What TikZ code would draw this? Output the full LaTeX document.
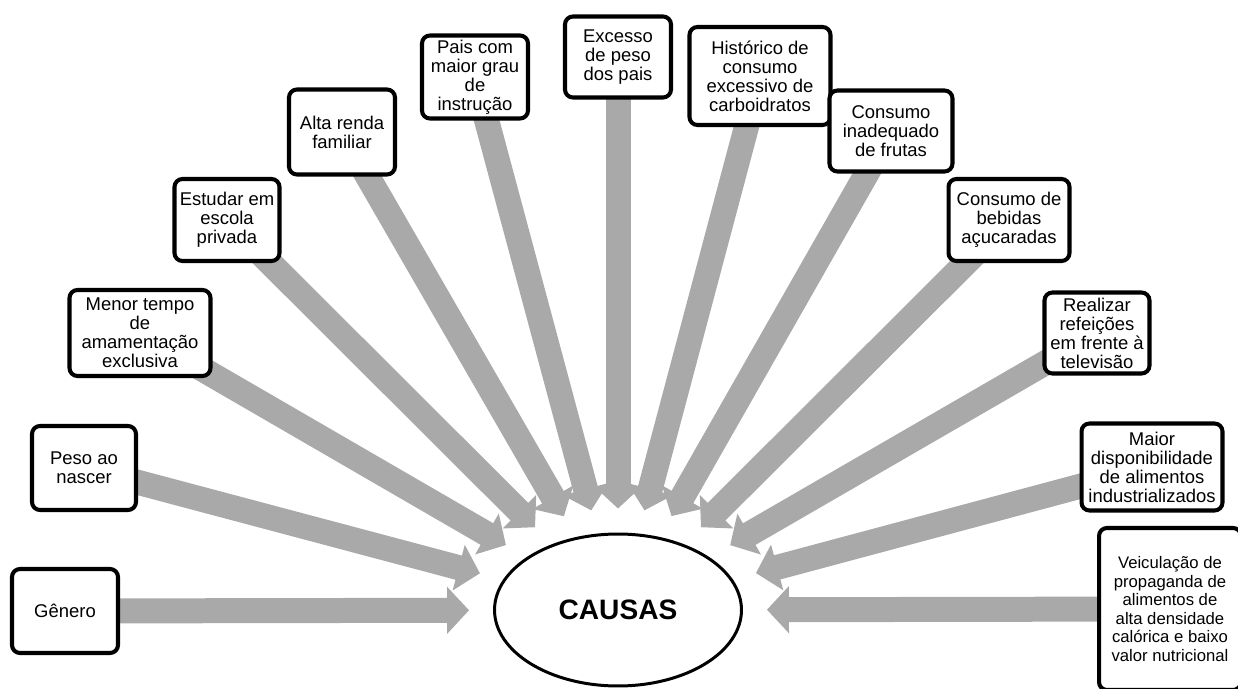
\documentclass[tikz,border=0pt]{standalone}
\usepackage{fontspec}
\setmainfont{Liberation Sans}
\usetikzlibrary{arrows.meta,shapes.geometric,positioning}
\pgfdeclarelayer{background}
\pgfsetlayers{background,main}
\definecolor{arrowgray}{RGB}{169,169,169}

\begin{document}
\begin{tikzpicture}[x=0.02cm,y=-0.02cm]

		\tikzset{cause/.style={draw,fill=white,line width=2.3pt,rounded corners=4.5pt,align=center,inner sep=1pt,font=\fontsize{10.5}{10.8}\selectfont}}
		\tikzset{arrow/.style={arrowgray,line width=0.5cm,shorten >=0.48cm,-{Triangle[width=0.92cm,length=0.44cm]}}}
		\tikzset{center/.style={draw,ellipse,line width=1.7pt,minimum width=4.94cm,minimum height=3.04cm,font=\fontsize{16}{19}\selectfont\bfseries}}

		\useasboundingbox (0,0) rectangle (1238,689);
		\clip (0,0) rectangle (1238,689);

		\node[center] (causas) at (618,610) {CAUSAS};

		% left side
		\node[cause,minimum width=2.12cm,minimum height=1.68cm] (genero) at (65,611) {Gênero};
		\node[cause,minimum width=2.08cm,minimum height=1.68cm] (peso) at (84,468) {Peso ao\\nascer};
		\node[cause,minimum width=2.82cm,minimum height=1.72cm] (amament) at (140,333) {Menor tempo\\de\\amamentação\\exclusiva};
		\node[cause,minimum width=2.10cm,minimum height=1.64cm] (escola) at (227,220) {Estudar em\\escola\\privada};
		\node[cause,minimum width=2.12cm,minimum height=1.70cm] (renda) at (342,132) {Alta renda\\familiar};
		\node[cause,minimum width=2.12cm,minimum height=1.66cm] (instr) at (475,77) {Pais com\\maior grau\\de\\instrução};

		% top
		\node[cause,minimum width=2.12cm,minimum height=1.62cm] (pesopais) at (618,57) {Excesso\\de peso\\dos pais};

		% right side
		\node[cause,minimum width=2.82cm,minimum height=1.96cm] (carbo) at (760,76) {Histórico de\\consumo\\excessivo de\\carboidratos};
		\node[cause,minimum width=2.46cm,minimum height=1.62cm] (frutas) at (891,131) {Consumo\\inadequado\\de frutas};
		\node[cause,minimum width=2.42cm,minimum height=1.64cm] (bebidas) at (1009,220) {Consumo de\\bebidas\\açucaradas};
		\node[cause,minimum width=2.10cm,minimum height=1.62cm] (tv) at (1097,333) {Realizar\\refeições\\em frente à\\televisão};
		\node[cause,minimum width=2.82cm,minimum height=1.74cm] (industr) at (1152,467) {Maior\\disponibilidade\\de alimentos\\industrializados};
		\node[cause,minimum width=2.84cm,minimum height=3.24cm,font=\fontsize{9.5}{10.6}\selectfont] (propag) at (1170,609) {Veiculação de\\propaganda de\\alimentos de\\alta densidade\\calórica e baixo\\valor nutricional};

		\begin{pgfonlayer}{background}
			\foreach \n in {genero,peso,amament,escola,renda,instr,pesopais,carbo,frutas,bebidas,tv,industr,propag}
				\draw[arrow] (\n.center) -- (causas);
		\end{pgfonlayer}

	\end{tikzpicture}
\end{document}
